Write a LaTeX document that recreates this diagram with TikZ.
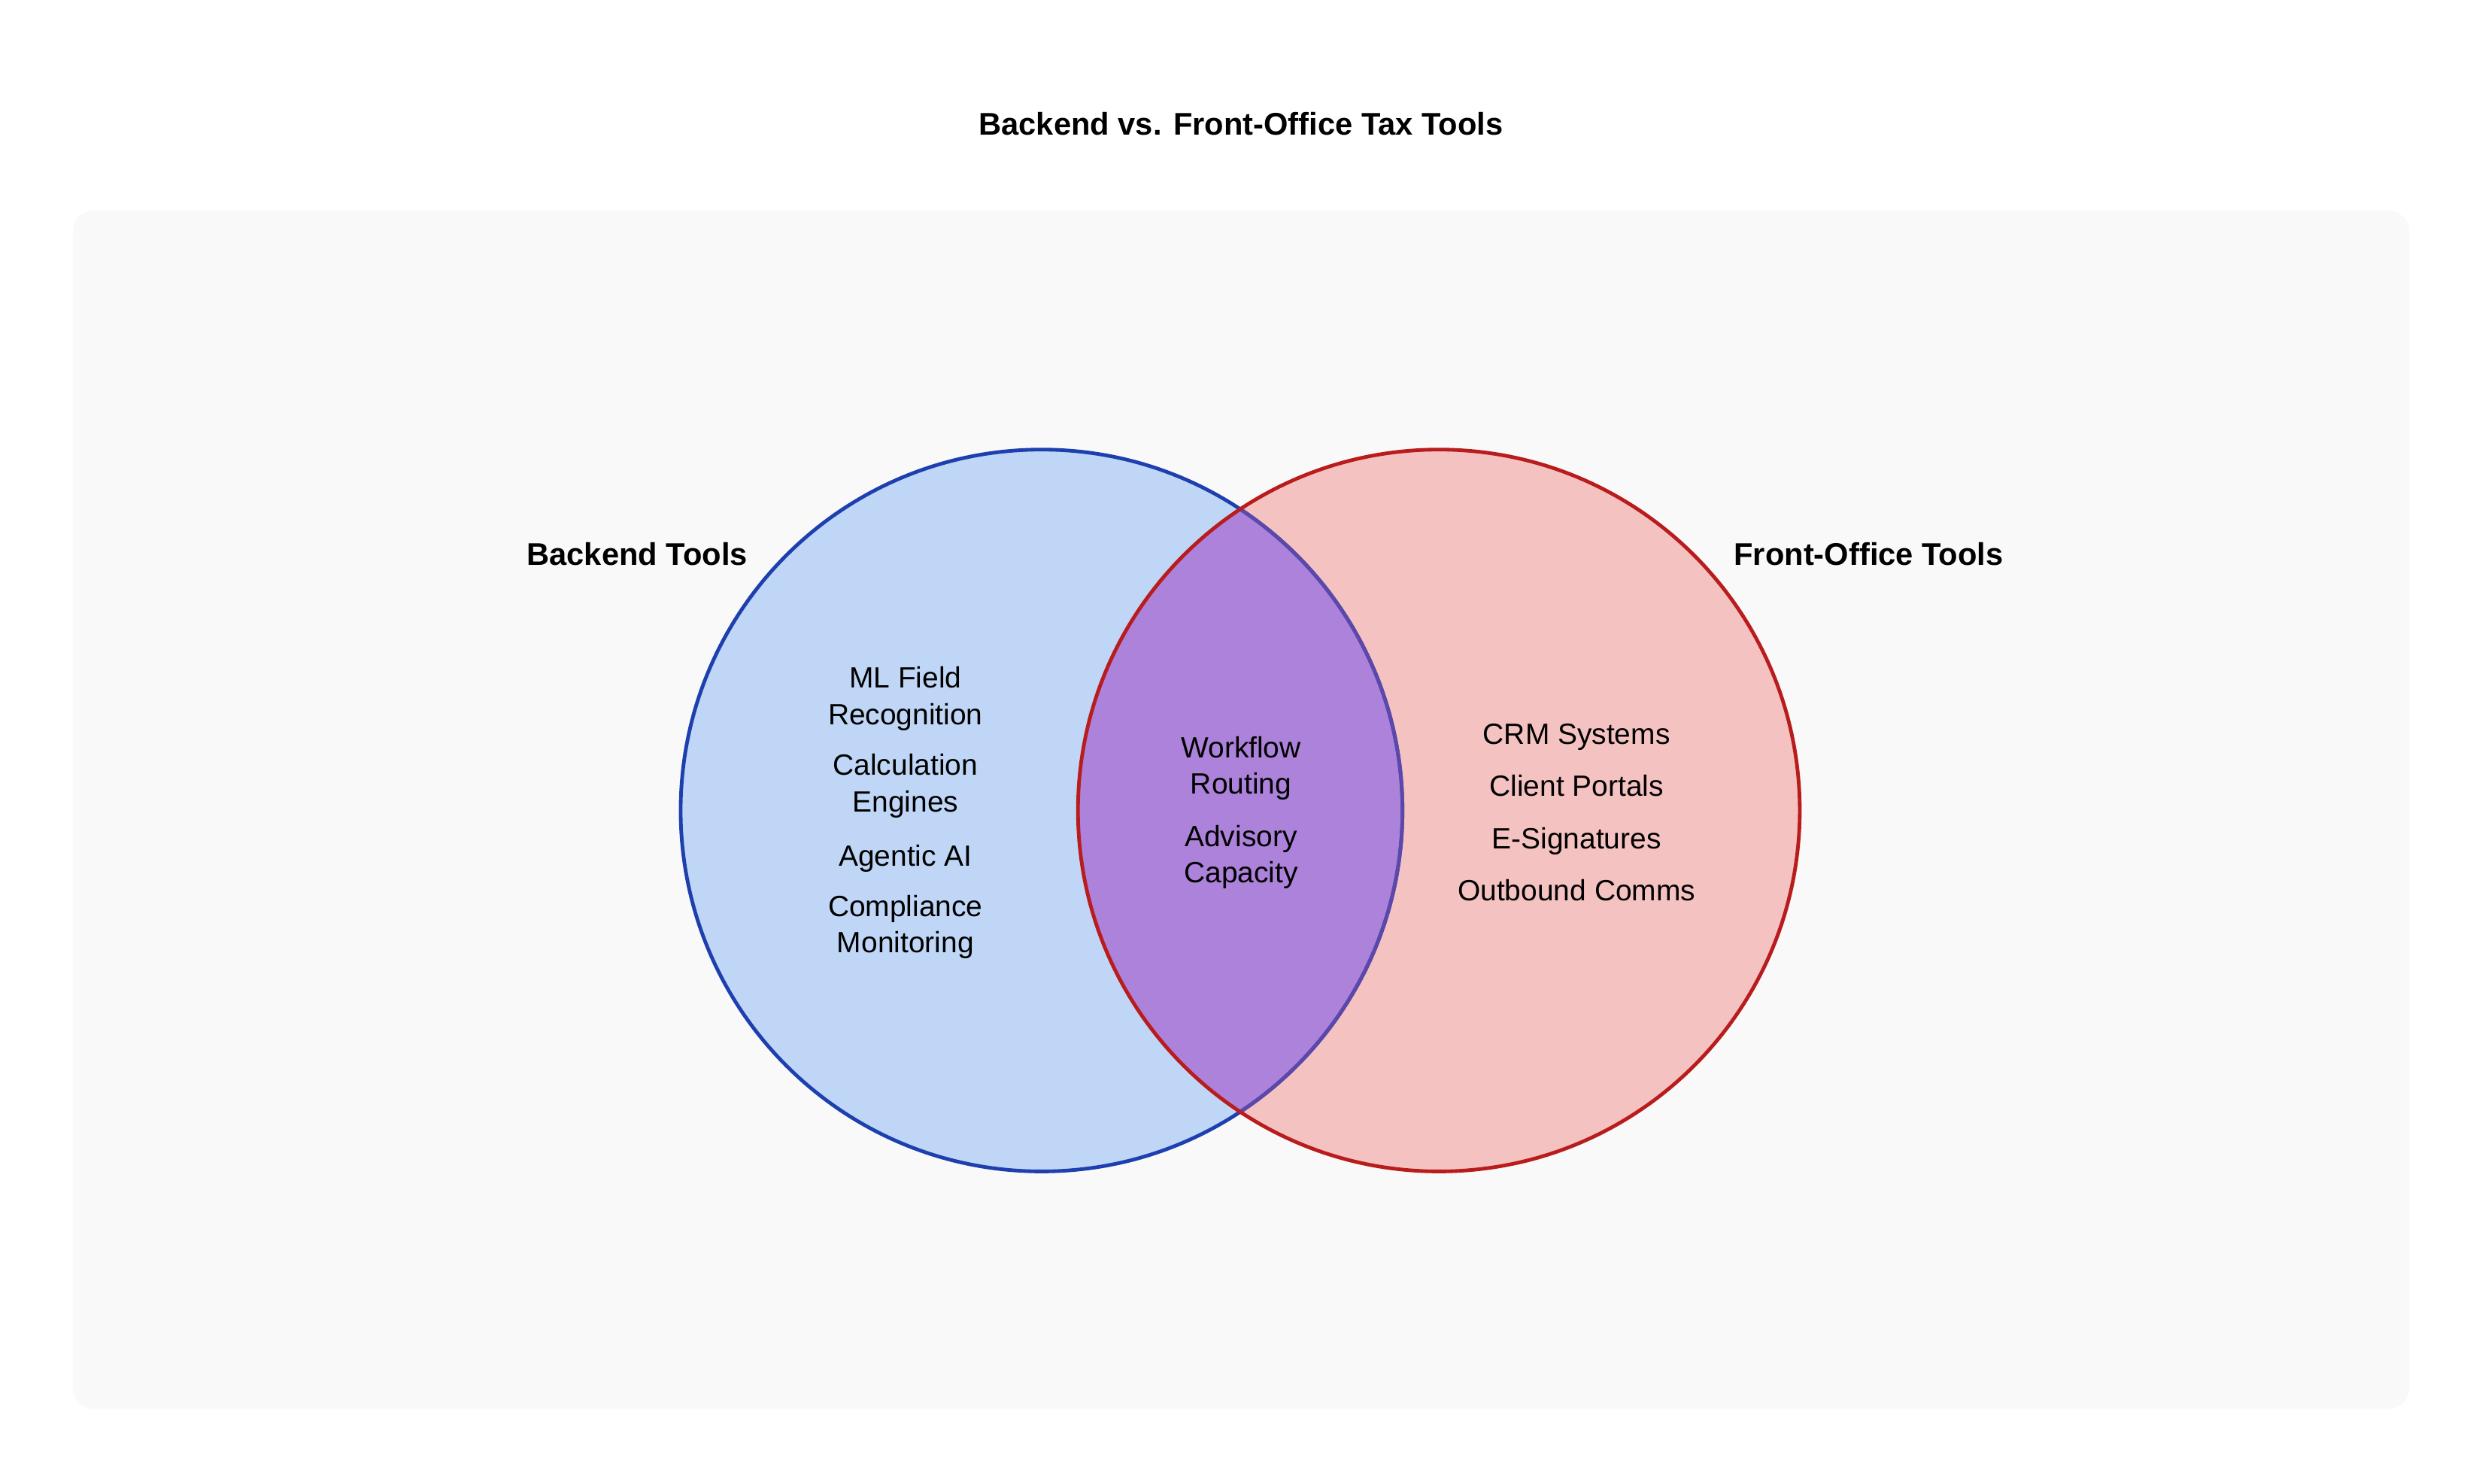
\documentclass[tikz,border=0pt]{standalone}
\usepackage{fontspec}
\setmainfont{Liberation Sans}
\definecolor{panelgray}{RGB}{249,249,249}
\definecolor{backfill}{RGB}{192,214,246}
\definecolor{backline}{RGB}{30,64,175}
\definecolor{frontfill}{RGB}{245,194,194}
\definecolor{frontline}{RGB}{185,28,28}
\definecolor{bothfill}{RGB}{172,130,218}
\definecolor{bothline}{RGB}{92,72,170}
\begin{document}
\begin{tikzpicture}[x=0.5pt,y=0.5pt,yscale=-1,xscale=1,
  head/.style={inner sep=0.75pt, font=\fontsize{9.9}{12}\selectfont\bfseries},
  item/.style={inner sep=0.75pt, align=center, font=\fontsize{9.25}{11.5}\selectfont,
    execute at begin node=\strut, execute at end node=\strut}]
\useasboundingbox (0,0) rectangle (1568,937);

%Shape: Panel
\fill [panelgray, rounded corners=6.5pt] (46,133) rectangle (1522,890);

%Shape: Circles
\fill [backfill] (658,512) circle [radius=228];
\fill [frontfill] (909,512) circle [radius=228];
\begin{scope}
  \clip (658,512) circle [radius=228];
  \fill [bothfill] (909,512) circle [radius=228];
\end{scope}
\draw [backline, line width=1.15pt] (658,512) circle [radius=228];
\begin{scope}
  \clip (909,512) circle [radius=228];
  \draw [bothline, line width=1.15pt] (658,512) circle [radius=228];
\end{scope}
\draw [frontline, line width=1.15pt] (909,512) circle [radius=228];

% Text Node
\node [head] (title) at (784,78) {Backend vs. Front-Office Tax Tools};
\node [head] (backhead) at (402.5,350) {Backend Tools};
\node [head] (fronthead) at (1180.5,350) {Front-Office Tools};

% Text Node: backend items
\node [item] (mlfield) at (572,443) {ML Field\\Recognition};
\node [item] (calc) at (572,498) {Calculation\\Engines};
\node [item] (agentic) at (572,542.5) {Agentic AI};
\node [item] (compliance) at (572,587) {Compliance\\Monitoring};

% Text Node: shared items
\node [item] (workflow) at (784,487) {Workflow\\Routing};
\node [item] (advisory) at (784,543) {Advisory\\Capacity};

% Text Node: front-office items
\node [item] (crm) at (996,465.5) {CRM Systems};
\node [item] (portals) at (996,498.5) {Client Portals};
\node [item] (esign) at (996,531.5) {E-Signatures};
\node [item] (comms) at (996,564.5) {Outbound Comms};
\end{tikzpicture}
\end{document}
